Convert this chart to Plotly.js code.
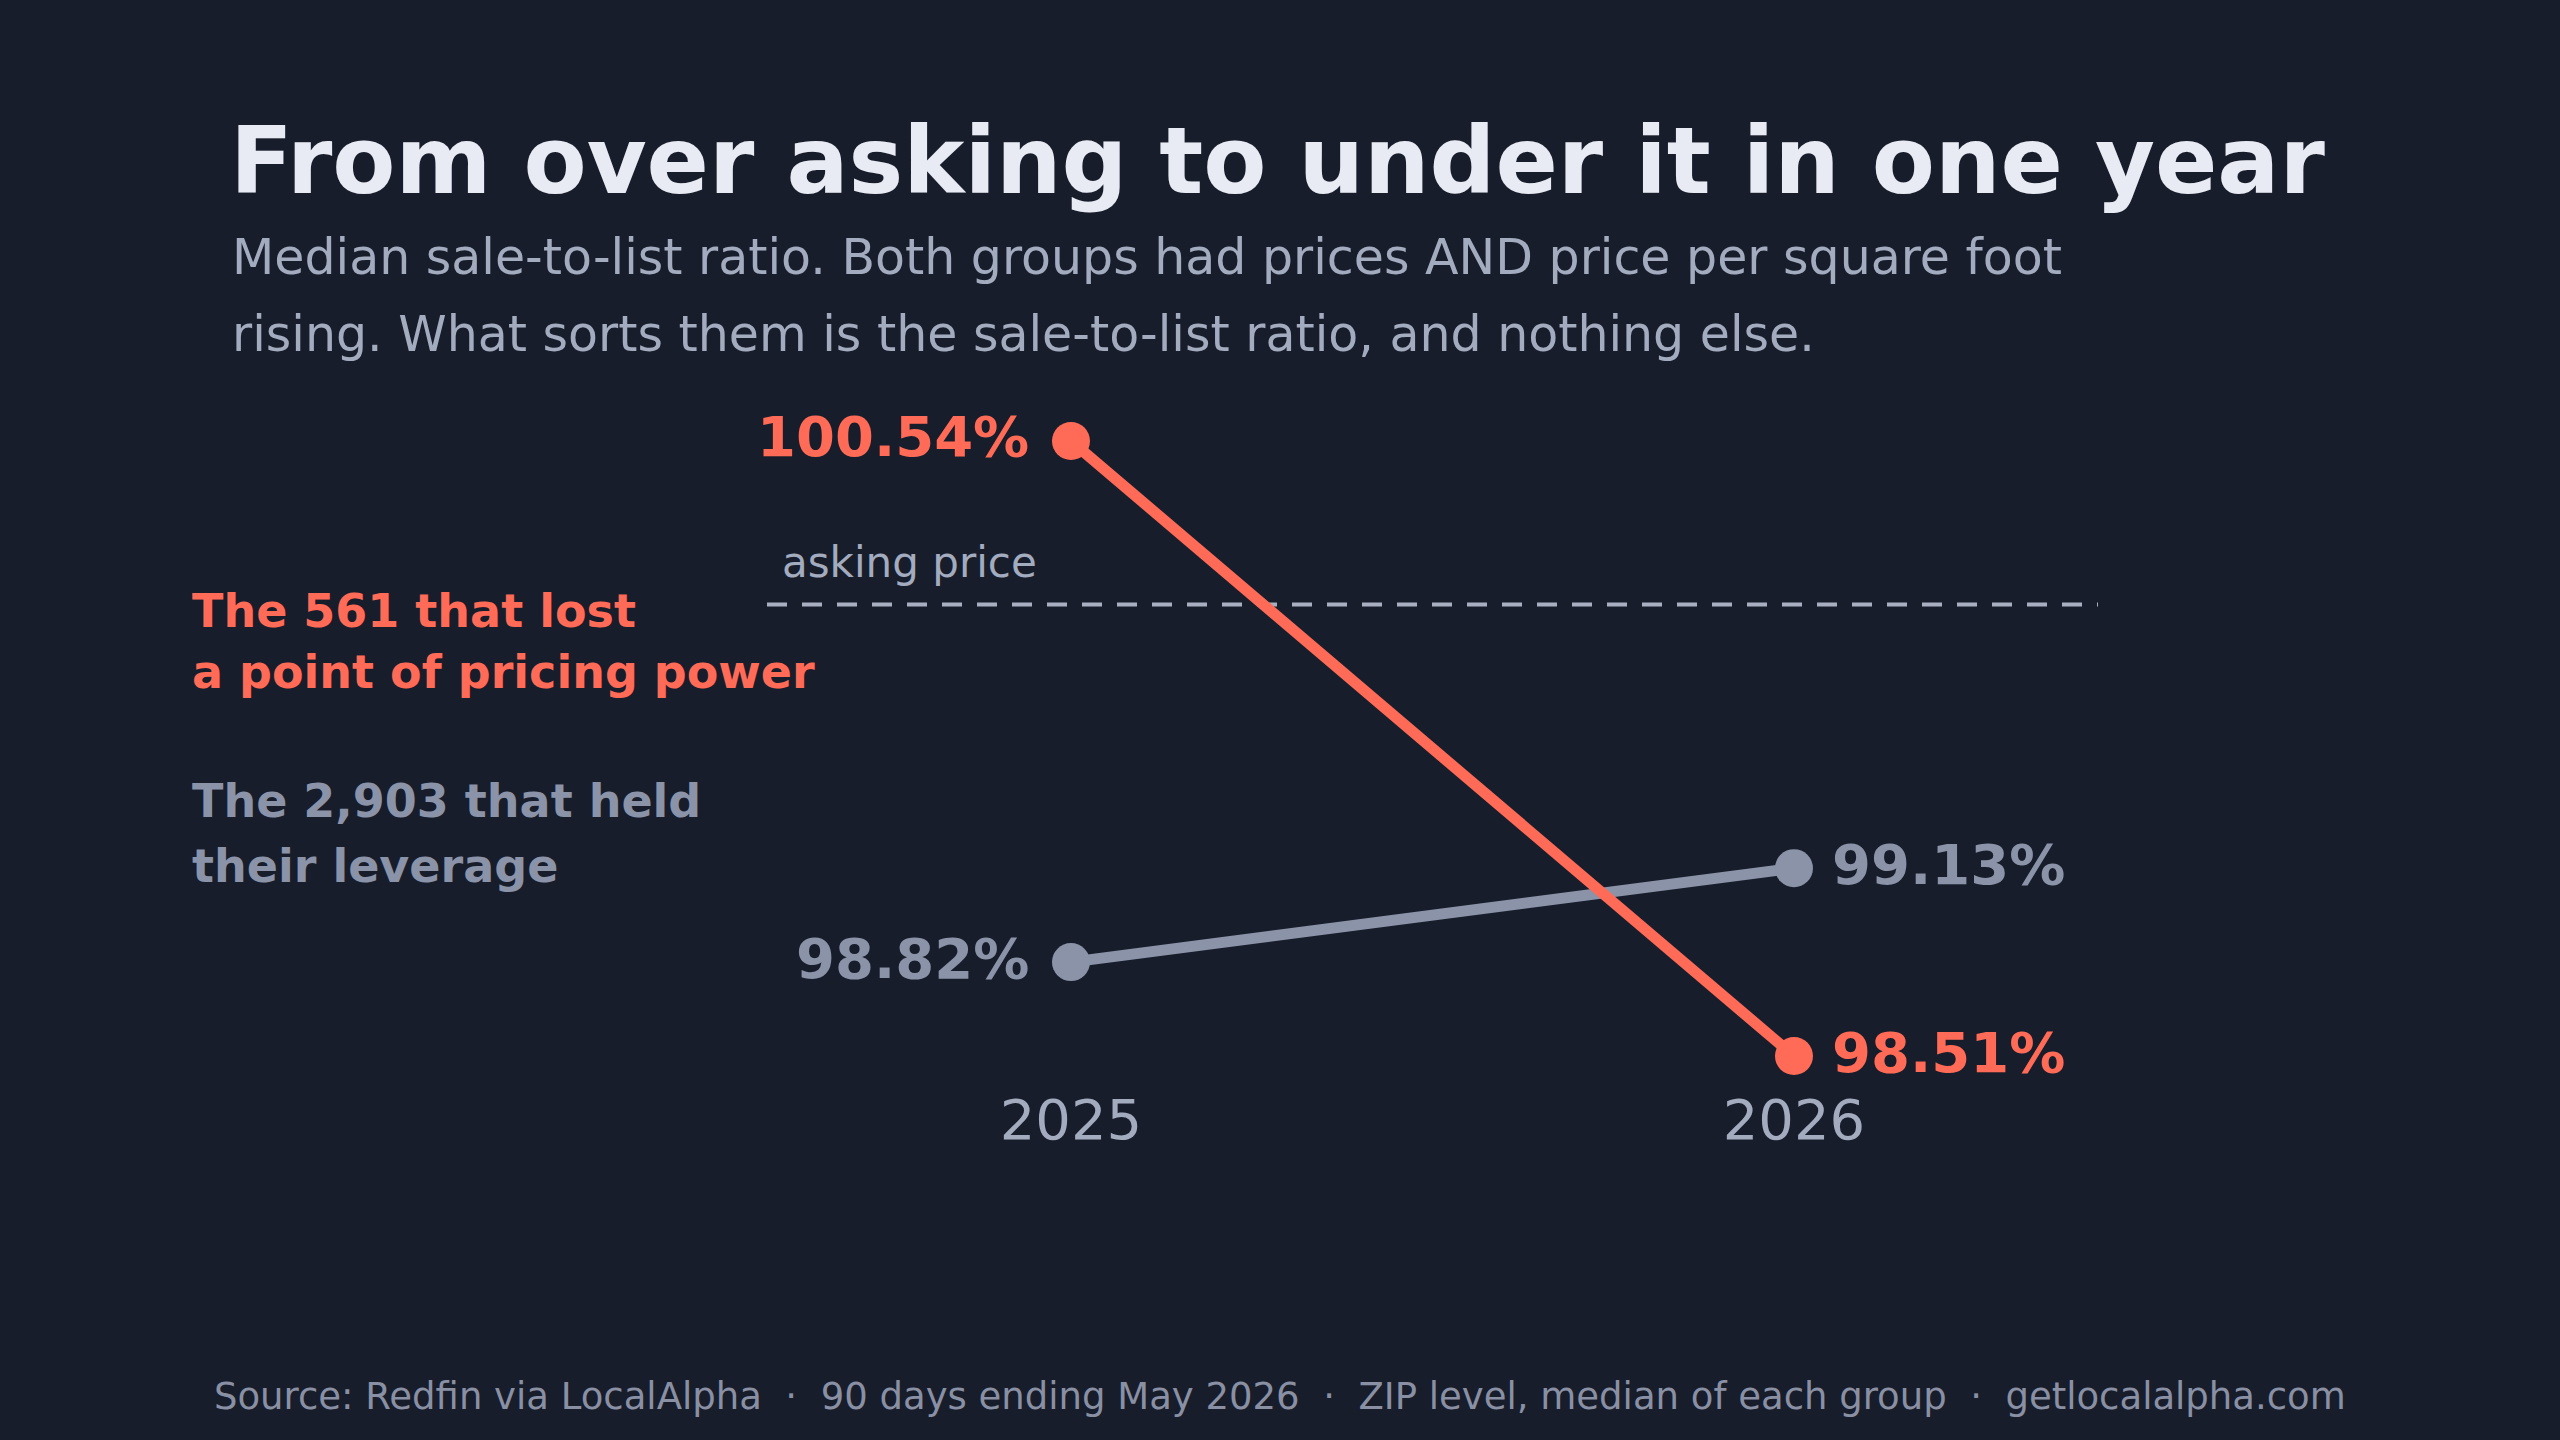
<!DOCTYPE html>
<html>
<head>
<meta charset="utf-8">
<script src="https://cdn.plot.ly/plotly-3.0.1.min.js"></script>
<style>
  html, body { margin: 0; padding: 0; background: #181d2b; }
  #chart { width: 2560px; height: 1440px; }
</style>
</head>
<body>
<div id="chart"></div>
<script>
// Median sale-to-list ratio (%) by group
const YEARS = [2025, 2026];
const YEAR_LABELS = ['2025', '2026'];
const LOST_POWER = [100.54, 98.51];   // the 561 ZIPs that lost pricing power
const HELD_LEVERAGE = [98.82, 99.13]; // the 2,903 ZIPs that held leverage
const ASKING_PRICE = 100;

const LOST_NOTE = ['The 561 that lost', 'a point of pricing power'];
const HELD_NOTE = ['The 2,903 that held', 'their leverage'];

const TITLE = 'From over asking to under it in one year';
const SUBTITLE = [
  'Median sale-to-list ratio. Both groups had prices AND price per square foot',
  'rising. What sorts them is the sale-to-list ratio, and nothing else.'
];
const SOURCE = 'Source: Redfin via LocalAlpha  \u00b7  90 days ending May 2026  \u00b7  ZIP level, median of each group  \u00b7  getlocalalpha.com';

const W = 2560, H = 1440;
const FONT = 'DejaVu Sans, Liberation Sans, sans-serif';
const BG = '#181d2b';
const RED = '#ff6b57';
const GRAY = '#8a93a8';
const LIGHT = '#a3abbf';

// page pixel -> paper helpers for the free-standing text
const px = x => x / W;
const py = y => 1 - y / H;
const fmt = v => v.toFixed(2) + '%';

const traces = [
  {
    x: YEARS, y: HELD_LEVERAGE, type: 'scatter', mode: 'lines+markers',
    line: { color: GRAY, width: 11 },
    marker: { color: GRAY, size: 38 },
    hoverinfo: 'skip', cliponaxis: false
  },
  {
    x: YEARS, y: LOST_POWER, type: 'scatter', mode: 'lines+markers',
    line: { color: RED, width: 11 },
    marker: { color: RED, size: 38 },
    hoverinfo: 'skip', cliponaxis: false
  }
];

const annotations = [];
function text(x, y, str, size, color, bold, anchor) {
  annotations.push({
    xref: 'paper', yref: 'paper', x: px(x), y: py(y),
    xanchor: anchor || 'left', yanchor: 'middle', showarrow: false,
    text: bold ? '<b>' + str + '</b>' : str,
    font: { family: FONT, size: size, color: color }
  });
}

text(228, 161, TITLE, 92, '#e8ebf3', true);
text(230, 257, SUBTITLE[0], 49, LIGHT, false);
text(230, 334, SUBTITLE[1], 49, LIGHT, false);

text(190, 611, LOST_NOTE[0], 46, RED, true);
text(190, 672, LOST_NOTE[1], 46, RED, true);
text(190, 801, HELD_NOTE[0], 46, GRAY, true);
text(190, 866, HELD_NOTE[1], 46, GRAY, true);

text(1280, 1396, SOURCE, 37, '#8a90a4', false, 'center');

// reference label above the asking-price line
annotations.push({
  xref: 'paper', yref: 'y', x: px(780), y: ASKING_PRICE,
  xanchor: 'left', yanchor: 'middle', yshift: 42, showarrow: false,
  text: 'asking price', font: { family: FONT, size: 42, color: LIGHT }
});

// value labels at each end of both lines
[[LOST_POWER, RED], [HELD_LEVERAGE, GRAY]].forEach(([vals, color]) => {
  vals.forEach((v, i) => {
    const left = i === 0;
    annotations.push({
      xref: 'x', yref: 'y', x: YEARS[i], y: v,
      xanchor: left ? 'right' : 'left', yanchor: 'middle',
      xshift: left ? -40 : 36, yshift: 4, showarrow: false,
      text: '<b>' + fmt(v) + '</b>',
      font: { family: FONT, size: 56, color: color }
    });
  });
});

const layout = {
  width: W, height: H,
  paper_bgcolor: BG, plot_bgcolor: BG,
  margin: { l: 0, r: 0, t: 0, b: 0 },
  showlegend: false,
  font: { family: FONT, color: LIGHT },
  xaxis: {
    domain: [0, 1], range: [2023.5187, 2027.0595],
    tickvals: YEARS, ticktext: YEAR_LABELS,
    tickfont: { family: FONT, size: 56, color: LIGHT },
    showgrid: false, zeroline: false, showline: false, ticks: '',
    fixedrange: true
  },
  yaxis: {
    domain: [1 - 1082 / H, 1], range: [98.4242, 101.9956],
    visible: false, showgrid: false, zeroline: false, fixedrange: true
  },
  shapes: [{
    type: 'line', xref: 'paper', yref: 'y',
    x0: px(767), x1: px(2098), y0: ASKING_PRICE, y1: ASKING_PRICE,
    line: { color: '#a8afc0', width: 4, dash: '20px,15px' },
    layer: 'below'
  }],
  annotations: annotations
};

Plotly.newPlot('chart', traces, layout, { staticPlot: true, displayModeBar: false });
</script>
</body>
</html>
